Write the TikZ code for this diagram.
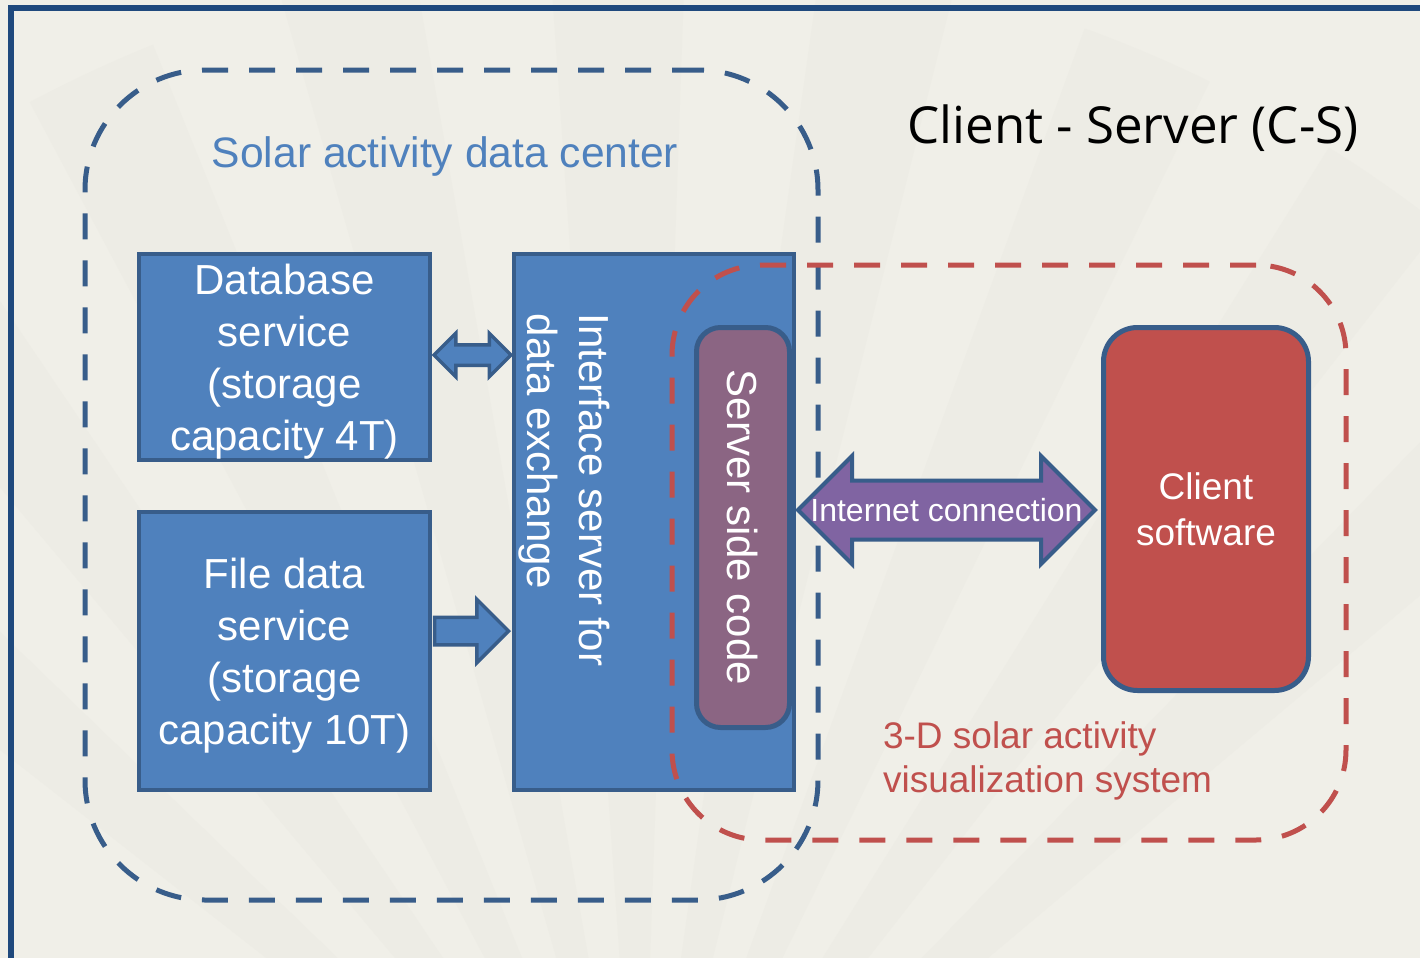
\documentclass[tikz,border=0pt]{standalone}
\usepackage{fontspec}
\setmainfont{Liberation Sans}
\newfontfamily\titlefont{Open Sans}
\usetikzlibrary{shapes.arrows}

\definecolor{boxfill}{RGB}{79,129,189}
\definecolor{boxline}{RGB}{56,93,138}
\definecolor{frameblue}{RGB}{31,73,125}
\definecolor{codefill}{RGB}{139,101,131}
\definecolor{netfill}{RGB}{128,100,162}
\definecolor{clientred}{RGB}{192,80,77}
\definecolor{paper}{RGB}{240,239,232}
\definecolor{fanshade}{RGB}{226,225,217}

\begin{document}
\begin{tikzpicture}[x=0.5pt,y=-0.5pt,
  box/.style={draw=boxline,fill=boxfill,line width=2pt,text=white,align=center,
    text depth=0pt,font=\fontsize{21}{26}\selectfont},
  region/.style={line width=2.5pt,dash pattern=on 13pt off 10.5pt,rounded corners=#1},
  dblarrow/.style={double arrow,draw=boxline,fill=boxfill,line width=1.75pt,
    inner sep=4.25pt,double arrow head extend=5.75pt,minimum height=38.5pt},
  fwdarrow/.style={single arrow,draw=boxline,fill=boxfill,line width=1.75pt,
    inner sep=6pt,single arrow head extend=9pt,minimum height=37pt},
  netarrow/.style={double arrow,draw=boxline,fill=netfill,line width=2pt,
    inner sep=13.75pt,double arrow head extend=12.25pt,minimum height=148.5pt},
  codebox/.style={draw=boxline,fill=codefill,line width=2.5pt,rounded corners=12pt,
    text=white,font=\fontsize{21}{26}\selectfont}
]
\useasboundingbox[fill=paper] (0,0) rectangle (1420,958);

% faint fan panels behind everything
\foreach \a in {40,52,...,136}
  \fill[fanshade,opacity=0.2] (640,1250) -- +(-\a:1300) arc[start angle=-\a,end angle=-\a-6,radius=1300] -- cycle;

\draw[frameblue,line width=3pt] (11,958) -- (11,8) -- (1420,8);

% data center side
\node[region=60pt,draw=boxline,minimum width=366.5pt,minimum height=415pt] (datacenter) at (451.5,485) {};
\node[text=boxfill,font=\fontsize{21.3}{26}\selectfont] (dclabel) at (445,156) {Solar activity data center};

\node[box,minimum width=145.5pt,minimum height=103pt] (db) at (284.5,357) {Database\\service\\(storage\\capacity 4T)};
\node[box,minimum width=145.5pt,minimum height=139pt] (file) at (284.5,651) {File data\\service\\(storage\\capacity 10T)};
\node[box,minimum width=140pt,minimum height=268pt] (iface) at (654,522) {};
\node[text=white,rotate=-90,align=left,font=\fontsize{21}{26}\selectfont] (ifacelabel) at (564,490) {Interface server for\\data exchange};

\node[dblarrow] (dblink) at (472.5,355) {};
\node[fwdarrow,anchor=tip] (filelink) at (511,631) {};

% client side
\node[region=45pt,draw=clientred,minimum width=337pt,minimum height=287.5pt] (vissys) at (1009,552.5) {};
\node[codebox,rotate=-90,minimum width=200pt,minimum height=46.5pt] (code) at (743,527.5) {Server side code};
\node[draw=boxline,fill=clientred,line width=2.5pt,rounded corners=17pt,text=white,align=center,
  font=\fontsize{18.5}{23}\selectfont,minimum width=102.5pt,minimum height=181.5pt] (client) at (1206,509) {Client\\software};

\node[netarrow,label={[text=white,font=\fontsize{16}{19}\selectfont]center:Internet connection}] (net) at (946.5,510) {};

\node[text=clientred,align=left,anchor=west,font=\fontsize{18.5}{22}\selectfont] (vislabel) at (876,761) {3-D solar activity\\visualization system};
\node[font=\titlefont\fontsize{25.5}{30}\selectfont] (title) at (1133,128) {Client - Server (C-S)};

\end{tikzpicture}
\end{document}
